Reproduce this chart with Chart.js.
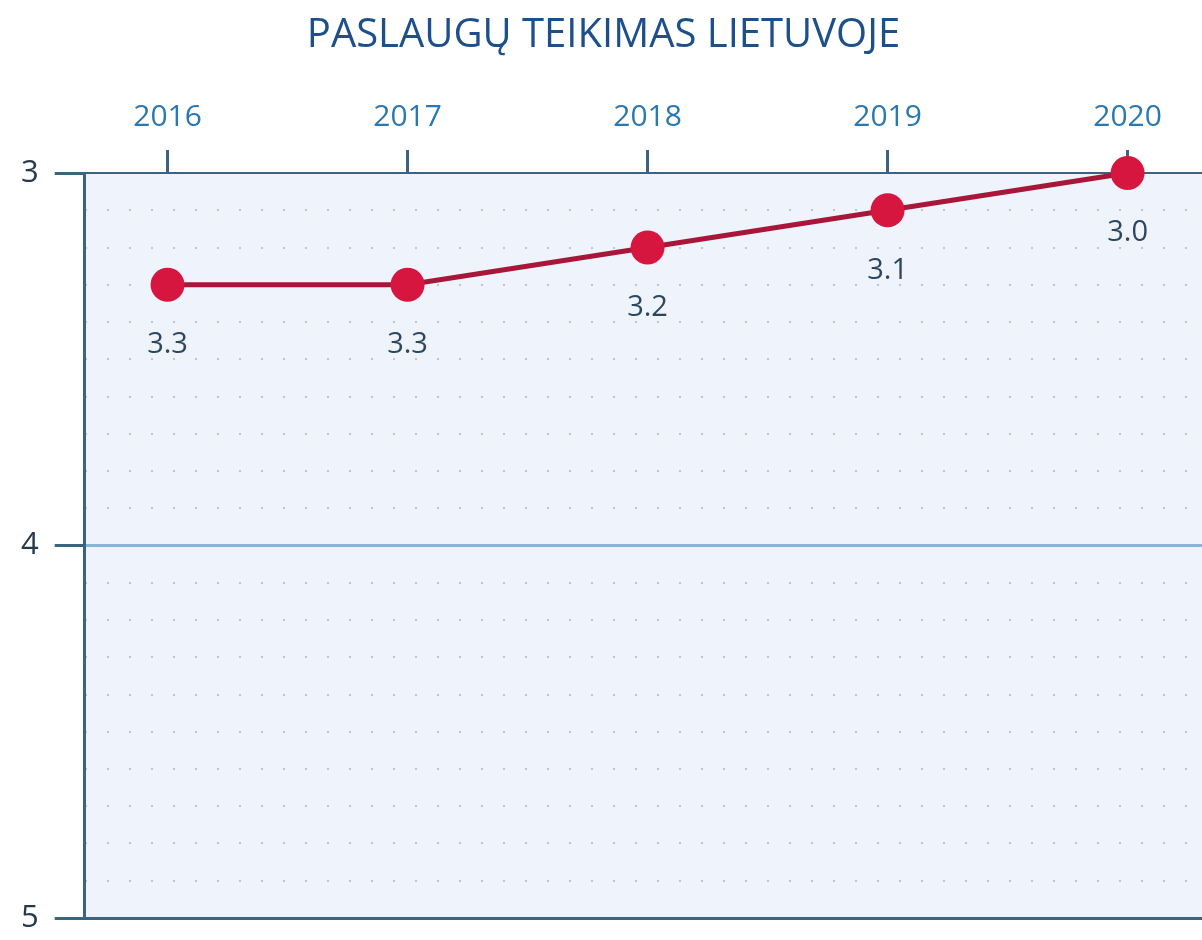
<!DOCTYPE html>
<html>
<head>
<meta charset="utf-8">
<script src="https://cdn.jsdelivr.net/npm/chart.js@4"></script>
<style>
  html, body { margin: 0; padding: 0; background: #fff; overflow: hidden; }
  #wrap { width: 1202px; height: 940px; }
  canvas { display: block; }
</style>
</head>
<body>
<div id="wrap"><canvas id="chart"></canvas></div>
<script>
const titleText = "PASLAUGŲ TEIKIMAS LIETUVOJE";
const years = [2016, 2017, 2018, 2019, 2020];
const values = [3.3, 3.3, 3.2, 3.1, 3.0];
const yTicks = [3, 4, 5];

const axisColor = "#3b6480";
const font = "'Open Sans', 'Noto Sans', sans-serif";

const plotBackground = {
    id: "plotBackground",
    beforeDraw(chart) {
        const { ctx, chartArea: a } = chart;
        ctx.save();
        ctx.fillStyle = "#eff3fb";
        ctx.fillRect(a.left, a.top, a.right - a.left, a.bottom - a.top);
        ctx.restore();
    },
};

const valueLabels = {
    id: "valueLabels",
    afterDatasetsDraw(chart) {
        const { ctx } = chart;
        const meta = chart.getDatasetMeta(0);
        ctx.save();
        ctx.font = "29px " + font;
        ctx.fillStyle = "#2c4660";
        ctx.textAlign = "center";
        ctx.textBaseline = "middle";
        meta.data.forEach((pt, i) => {
            ctx.fillText(values[i].toFixed(1), pt.x, pt.y + 60);
        });
        ctx.restore();
    },
};

const config = {
    type: "line",
    data: {
        datasets: [
            {
                data: years.map((y, i) => ({ x: y, y: values[i] })),
                borderColor: "#a8173a",
                borderWidth: 5,
                pointRadius: 17,
                pointHoverRadius: 17,
                pointBackgroundColor: "#d7163f",
                pointBorderWidth: 0,
                clip: false,
            },
        ],
    },
    options: {
        responsive: false,
        animation: false,
        layout: { autoPadding: false, padding: { left: 5, right: 0, top: 12, bottom: 22 } },
        plugins: {
            legend: { display: false },
            tooltip: { enabled: false },
            title: {
                display: true,
                text: titleText,
                color: "#1d4f8c",
                font: { family: font, size: 40, weight: "normal" },
                padding: { top: 0, bottom: 24 },
            },
        },
        scales: {
            x: {
                type: "linear",
                position: "top",
                min: 2015.655,
                max: 2020.31,
                afterBuildTicks: (axis) => {
                    axis.ticks = years.map((v) => ({ value: v }));
                },
                ticks: {
                    color: "#2a78b4",
                    font: { family: font, size: 30 },
                    padding: 15,
                    maxRotation: 0,
                    callback: (v) => String(v),
                },
                grid: {
                    drawOnChartArea: false,
                    tickLength: 23,
                    tickColor: axisColor,
                    tickWidth: 3,
                },
                border: { color: axisColor, width: 2 },
            },
            y: {
                reverse: true,
                min: 3,
                max: 5,
                weight: 1,
                afterBuildTicks: (axis) => {
                    axis.ticks = yTicks.map((v) => ({ value: v }));
                },
                afterFit: (axis) => {
                    axis.paddingTop = 0;
                    axis.paddingBottom = 0;
                },
                ticks: {
                    color: "#27394d",
                    font: { family: font, size: 31 },
                    padding: 16,
                    callback: (v) => String(v),
                },
                grid: {
                    color: (c) => c.tick && c.tick.value === 4 ? "#86b7da" : c.tick && c.tick.value === 5 ? axisColor : "rgba(0,0,0,0)",
                    lineWidth: 3,
                    tickLength: 30,
                    tickColor: axisColor,
                    tickWidth: 3,
                    z: 1,
                },
                border: { color: axisColor, width: 3, z: 2 },
            },
            yMinor: {
                reverse: true,
                min: 3,
                max: 5,
                position: "left",
                weight: 0,
                ticks: { display: false, stepSize: 0.1 },
                grid: {
                    color: "#bec5d0",
                    lineWidth: 2,
                    drawTicks: false,
                },
                border: { display: false, dash: [2, 20] },
            },
        },
    },
    plugins: [plotBackground, valueLabels],
};

const canvas = document.getElementById("chart");
canvas.width = 1202;
canvas.height = 940;
new Chart(canvas, config);
</script>
</body>
</html>
